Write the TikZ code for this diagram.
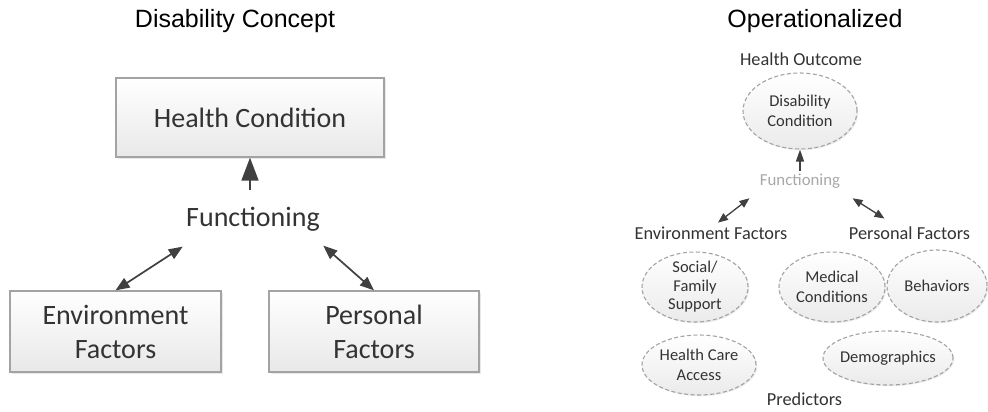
\documentclass[tikz,border=0pt]{standalone}
\usepackage{fontspec}
\setmainfont{Carlito}
\newfontfamily\arialfont{Liberation Sans}
\usetikzlibrary{arrows.meta,shapes.geometric,shadows}
\definecolor{boxline}{HTML}{A3A3A3}
\definecolor{ink}{HTML}{333333}
\definecolor{arrowgray}{HTML}{404040}
\definecolor{fadedtext}{HTML}{A8A8A8}
\tikzset{x=1pt, y=-1pt,
  heading/.style={font=\arialfont\fontsize{25}{30}\selectfont, text=black},
  factorbox/.style={rectangle, draw=boxline, line width=1.3pt, top color=white, bottom color=black!9,
    text=ink, align=center, inner sep=0pt, font=\fontsize{28}{34}\selectfont,
    drop shadow={opacity=0.18, shadow xshift=1.5pt, shadow yshift=-1.5pt}},
  bigword/.style={text=ink, font=\fontsize{28}{34}\selectfont},
  oval/.style={ellipse, draw=boxline, dashed, dash pattern=on 4pt off 2.5pt, line width=1.1pt,
    top color=white, bottom color=black!8, inner sep=0pt,
    drop shadow={opacity=0.15, shadow xshift=1.2pt, shadow yshift=-1.2pt}},
  ovaltext/.style={text=ink, align=center, font=\fontsize{16.5}{20}\selectfont},
  groupword/.style={text=ink, font=\fontsize{18.3}{22}\selectfont},
  bigarrow/.style={draw=arrowgray, line width=1.7pt, -{Triangle[length=23pt,width=17pt]}},
  bigdouble/.style={draw=arrowgray, line width=1.7pt, {Triangle[length=14pt,width=11pt]}-{Triangle[length=14pt,width=11pt]}},
  smallarrow/.style={draw=arrowgray, line width=1.3pt, -{Triangle[length=12pt,width=8pt]}},
  smalldouble/.style={draw=arrowgray, line width=1.3pt, {Triangle[length=10pt,width=8pt]}-{Triangle[length=10pt,width=8pt]}}
}

\begin{document}
\begin{tikzpicture}
  \useasboundingbox[fill=white] (0,0) rectangle (988,412);

  \node[heading] (concept) at (235,21) {Disability Concept};
  \node[factorbox, minimum width=268, minimum height=79] (health) at (250,117.5) {Health Condition};
  \node[bigword] (func) at (253,219) {Functioning};
  \node[factorbox, minimum width=211, minimum height=81] (env) at (115.5,331.5) {Environment\\Factors};
  \node[factorbox, minimum width=210, minimum height=81] (pers) at (374,331.5) {Personal\\Factors};

  \draw[bigarrow, shorten <=13pt] (func.north -| health.south) -- (health.south);
  \draw[bigdouble] ([yshift=-12pt]func.south west) -- (env.north);
  \draw[bigdouble] ([yshift=-11pt]func.south east) -- (pers.north);

  \node[heading] (oper) at (815,21) {Operationalized};
  \node[groupword] (outcome) at (801,59) {Health Outcome};
  \node[oval, minimum width=114, minimum height=76] (dcond) at (800,111) {};
  \node[ovaltext] at (dcond) {Disability\\Condition};
  \node[text=fadedtext, font=\fontsize{16.8}{20}\selectfont] (func2) at (800,181.5) {Functioning};
  \node[groupword] (env2) at (711,233.5) {Environment Factors};
  \node[groupword] (pers2) at (909.5,233.5) {Personal Factors};

  \node[oval, minimum width=106, minimum height=70] (social) at (695,287) {};
  \node[ovaltext, font=\fontsize{16.5}{18.5}\selectfont] at (social) {Social/\\Family\\Support};
  \node[oval, minimum width=106, minimum height=70] (medical) at (832,287) {};
  \node[ovaltext] at (medical) {Medical\\Conditions};
  \node[oval, minimum width=100, minimum height=72] (behav) at (937,286) {};
  \node[ovaltext] at (behav) {Behaviors};
  \node[oval, minimum width=114, minimum height=60] (access) at (699,365) {};
  \node[ovaltext] at (access) {Health Care\\Access};
  \node[oval, minimum width=130, minimum height=54] (demo) at (888,358) {};
  \node[ovaltext] at (demo) {Demographics};
  \node[groupword] (pred) at (804.5,399) {Predictors};

  \draw[smallarrow] (func2.north -| dcond.south) -- (dcond.south);
  \draw[smalldouble] ([xshift=-7pt,yshift=-6pt]func2.south west) -- ([xshift=7pt,yshift=1pt]env2.north);
  \draw[smalldouble] ([xshift=9pt,yshift=-6pt]func2.south east) -- ([xshift=-25pt,yshift=5pt]pers2.north);
\end{tikzpicture}
\end{document}
